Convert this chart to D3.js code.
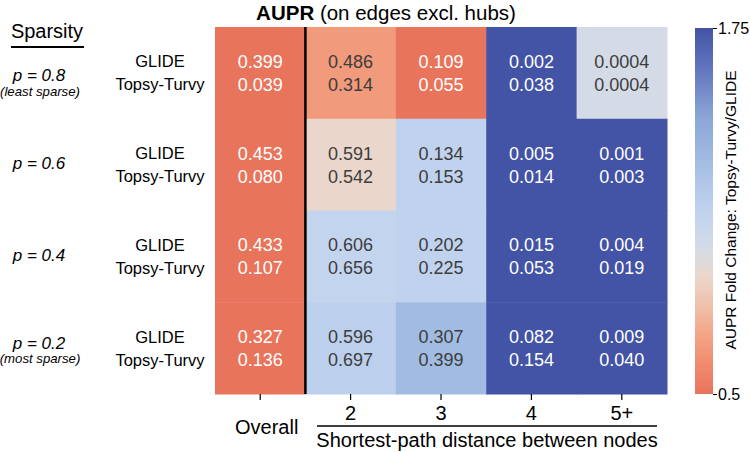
<!DOCTYPE html>
<html><head><meta charset="utf-8">
<script src="https://cdn.jsdelivr.net/npm/d3@7"></script>
<style>body{margin:0;background:#fff} svg{font-family:"Liberation Sans",Arial,Helvetica,sans-serif}</style>
</head><body><svg id="c" width="750" height="452"></svg>
<script>
const columns = ["Overall", "2", "3", "4", "5+"];
const sparsity = ["p = 0.8", "p = 0.6", "p = 0.4", "p = 0.2"];
const sparsityNotes = ["(least sparse)", "", "", "(most sparse)"];
const methods = ["GLIDE", "Topsy-Turvy"];
const glideValues = [
  ["0.399", "0.486", "0.109", "0.002", "0.0004"],
  ["0.453", "0.591", "0.134", "0.005", "0.001"],
  ["0.433", "0.606", "0.202", "0.015", "0.004"],
  ["0.327", "0.596", "0.307", "0.082", "0.009"]
];
const topsyValues = [
  ["0.039", "0.314", "0.055", "0.038", "0.0004"],
  ["0.080", "0.542", "0.153", "0.014", "0.003"],
  ["0.107", "0.656", "0.225", "0.053", "0.019"],
  ["0.136", "0.697", "0.399", "0.154", "0.040"]
];
// fold change (Topsy-Turvy / GLIDE)
const foldChange = [
  [0.10, 0.66, 0.50, 19.0, 1.00],
  [0.18, 0.90, 1.12, 2.80, 3.00],
  [0.25, 1.10, 1.12, 3.50, 4.75],
  [0.42, 1.15, 1.30, 1.90, 4.40]
];
const colorTicks = [0.5, 1.75];
const colorStops = [0.5, 0.6, 0.7, 0.8, 0.9, 0.97, 1.0, 1.1, 1.2, 1.3, 1.45, 1.6, 1.75];
const colorStopColors = ["#e9745c", "#ef8a6e", "#f4a486", "#f0c0aa", "#ead6cb", "#dbdbe0", "#d4dbe6",
  "#c3d4ee", "#b5caea", "#a1bbe2", "#8aa4d6", "#6479c0", "#4353a6"];

const svg = d3.select("#c");
const X0 = 215, X1 = 667, Y0 = 27, Y1 = 394;
const x = d3.scaleBand().domain(columns).range([X0, X1]);
const y = d3.scaleBand().domain(sparsity).range([Y0, Y1]);
const color = d3.scaleLinear().domain(colorStops).range(colorStopColors).clamp(true);

function textColor(c) {
  const r = d3.rgb(c);
  const lin = v => { v /= 255; return v <= 0.03928 ? v / 12.92 : Math.pow((v + 0.055) / 1.055, 2.4); };
  const L = 0.2126 * lin(r.r) + 0.7152 * lin(r.g) + 0.0722 * lin(r.b);
  return L > 0.408 ? "#3d3d3d" : "#ffffff";
}

// cells
sparsity.forEach((s, i) => {
  columns.forEach((col, j) => {
    const fc = color(foldChange[i][j]);
    svg.append("rect").attr("x", x(col)).attr("y", y(s))
      .attr("width", x.bandwidth() + 0.5).attr("height", y.bandwidth() + 0.5)
      .attr("fill", fc);
    const cx = x(col) + x.bandwidth() / 2, cy = y(s) + y.bandwidth() / 2;
    [glideValues[i][j], topsyValues[i][j]].forEach((v, k) => {
      svg.append("text").attr("x", cx).attr("y", cy + (k === 0 ? -11.5 : 11.5))
        .attr("dy", "0.36em").attr("text-anchor", "middle")
        .attr("font-size", 18).attr("fill", textColor(fc)).text(v);
    });
  });
});

// black separator after Overall
svg.append("line").attr("x1", x("2")).attr("x2", x("2")).attr("y1", Y0).attr("y2", Y1)
  .attr("stroke", "#000").attr("stroke-width", 2.5);

// row labels
sparsity.forEach((s, i) => {
  const cy = y(s) + y.bandwidth() / 2;
  methods.forEach((m, k) => {
    svg.append("text").attr("x", 160).attr("y", cy + (k === 0 ? -11.5 : 11.5)).attr("dy", "0.36em")
      .attr("text-anchor", "middle").attr("font-size", 16.5).attr("fill", "#000").text(m);
  });
  const hasNote = sparsityNotes[i] !== "";
  const pOff = i === 0 ? 2 : (hasNote ? -5.5 : -1.5);
  svg.append("text").attr("x", 39).attr("y", cy + pOff).attr("dy", "0.36em")
    .attr("text-anchor", "middle").attr("font-size", 17).attr("font-style", "italic").text(s);
  if (hasNote) {
    svg.append("text").attr("x", 40).attr("y", cy + pOff + 16).attr("dy", "0.36em")
      .attr("text-anchor", "middle").attr("font-size", 13.2).attr("font-style", "italic").text(sparsityNotes[i]);
  }
});

// Sparsity header
svg.append("text").attr("x", 47).attr("y", 38).attr("text-anchor", "middle")
  .attr("font-size", 20).text("Sparsity");
svg.append("line").attr("x1", 11).attr("x2", 84).attr("y1", 47).attr("y2", 47)
  .attr("stroke", "#000").attr("stroke-width", 2);

// title
const title = svg.append("text").attr("x", 386).attr("y", 19.5).attr("text-anchor", "middle").attr("font-size", 20.5);
title.append("tspan").attr("font-weight", "bold").text("AUPR");
title.append("tspan").text(" (on edges excl. hubs)");

// bottom axis
const xAxis = svg.append("g").attr("transform", `translate(0,${Y1})`)
  .call(d3.axisBottom(x).tickSize(6).tickSizeOuter(0));
xAxis.select(".domain").remove();
xAxis.selectAll(".tick line").attr("stroke", "#000").attr("stroke-width", 1.2);
xAxis.selectAll(".tick text")
  .attr("font-size", 20).attr("font-family", "Liberation Sans, Arial, sans-serif").attr("fill", "#000")
  .attr("dy", 0)
  .attr("y", d => d === "Overall" ? 40 : 26)
  .attr("dx", d => d === "Overall" ? 6.5 : 0);

svg.append("line").attr("x1", 317).attr("x2", 657).attr("y1", 426).attr("y2", 426)
  .attr("stroke", "#000").attr("stroke-width", 1.6);
svg.append("text").attr("x", 487).attr("y", 447).attr("text-anchor", "middle")
  .attr("font-size", 20).text("Shortest-path distance between nodes");

// colorbar
const cbX = 695, cbW = 18;
const cy = d3.scaleLinear().domain([colorTicks[0], colorTicks[1]]).range([Y1, Y0 + 1]);
const defs = svg.append("defs");
const grad = defs.append("linearGradient").attr("id", "cbg")
  .attr("x1", 0).attr("y1", 1).attr("x2", 0).attr("y2", 0);
d3.range(0, 1.0001, 0.02).forEach(t => {
  const v = colorTicks[0] + t * (colorTicks[1] - colorTicks[0]);
  grad.append("stop").attr("offset", t).attr("stop-color", color(v));
});
svg.append("rect").attr("x", cbX).attr("y", cy(colorTicks[1])).attr("width", cbW)
  .attr("height", cy(colorTicks[0]) - cy(colorTicks[1])).attr("fill", "url(#cbg)");
const cAxis = svg.append("g").attr("transform", `translate(${cbX + cbW},0)`)
  .call(d3.axisRight(cy).tickValues(colorTicks).tickSize(4).tickPadding(1).tickFormat(d3.format("")));
cAxis.select(".domain").remove();
cAxis.selectAll(".tick text").attr("font-size", 16).attr("font-family", "Liberation Sans, Arial, sans-serif").attr("fill", "#000");
svg.append("text").attr("transform", "translate(736,210) rotate(-90)").attr("text-anchor", "middle")
  .attr("font-size", 15.5).text("AUPR Fold Change: Topsy-Turvy/GLIDE");
</script></body></html>
